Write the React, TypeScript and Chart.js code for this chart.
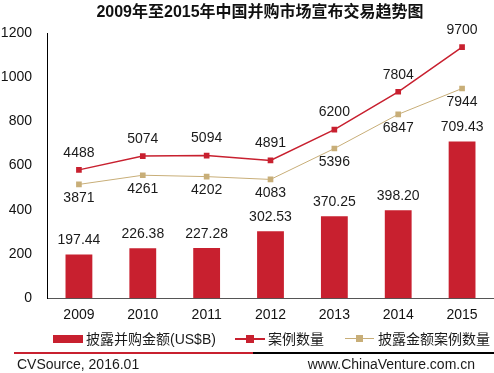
import React, { useEffect, useRef } from "react";
import { Chart, registerables } from "chart.js";

Chart.register(...registerables);

const title = "2009年至2015年中国并购市场宣布交易趋势图";
const years = ["2009", "2010", "2011", "2012", "2013", "2014", "2015"];
const dealAmount = [197.44, 226.38, 227.28, 302.53, 370.25, 398.2, 709.43];
const dealCount = [4488, 5074, 5094, 4891, 6200, 7804, 9700];
const disclosedCount = [3871, 4261, 4202, 4083, 5396, 6847, 7944];
const seriesNames = ["披露并购金额(US$B)", "案例数量", "披露金额案例数量"];
const yTicks = [0, 200, 400, 600, 800, 1000, 1200];
const sourceText = "CVSource, 2016.01";
const siteText = "www.ChinaVenture.com.cn";

const RED = "#C8202F";
const TAN = "#C8AE78";
const FONT = "'Liberation Sans', Arial, 'Noto Sans CJK SC', sans-serif";

const labelPlugin = {
  id: "valueLabels",
  afterDatasetsDraw(chart: any) {
    const ctx = chart.ctx;
    ctx.save();
    ctx.font = `14px ${FONT}`;
    ctx.fillStyle = "#1a1a1a";
    ctx.textAlign = "center";
    ctx.textBaseline = "middle";
    chart.data.datasets.forEach((ds: any, di: number) => {
      const meta = chart.getDatasetMeta(di);
      meta.data.forEach((el: any, i: number) => {
        const v = ds.data[i];
        let text: string;
        let y: number;
        if (di === 0) {
          text = v.toFixed(2);
          y = el.y - 14;
        } else if (di === 1) {
          text = String(v);
          y = el.y - 17;
        } else {
          text = String(v);
          y = el.y + 14;
        }
        ctx.fillText(text, el.x, y);
      });
    });
    ctx.restore();
  },
};

export default function App() {
  const ref = useRef<HTMLCanvasElement | null>(null);
  useEffect(() => {
    if (!ref.current) return;
    const chart = new Chart(ref.current, {
      type: "bar",
      data: {
        labels: years,
        datasets: [
          {
            type: "bar",
            label: seriesNames[0],
            data: dealAmount,
            backgroundColor: RED,
            yAxisID: "y",
            barPercentage: 0.42,
            categoryPercentage: 1,
            order: 3,
          } as any,
          {
            type: "line",
            label: seriesNames[1],
            data: dealCount,
            borderColor: RED,
            backgroundColor: RED,
            borderWidth: 1.5,
            pointStyle: "rect",
            pointRadius: 4,
            pointBorderWidth: 0,
            yAxisID: "y2",
            order: 1,
          },
          {
            type: "line",
            label: seriesNames[2],
            data: disclosedCount,
            borderColor: TAN,
            backgroundColor: TAN,
            borderWidth: 1,
            pointStyle: "rect",
            pointRadius: 4,
            pointBorderWidth: 0,
            yAxisID: "y2",
            order: 2,
          },
        ],
      },
      options: {
        animation: false,
        responsive: false,
        layout: { padding: { top: 33, bottom: 40, left: 0, right: 0 } },
        plugins: {
          legend: { display: false },
          title: { display: false },
          tooltip: { enabled: false },
        },
        scales: {
          x: {
            grid: { display: false, drawTicks: false },
            border: { display: true, color: "#555555", width: 1 },
            ticks: { color: "#111", font: { size: 14, family: FONT }, padding: 9 },
          },
          y: {
            min: 0,
            max: 1200,
            afterBuildTicks: (axis: any) => {
              axis.ticks = yTicks.map((v) => ({ value: v }));
            },
            afterFit: (axis: any) => {
              axis.width = 47;
            },
            grid: { display: false, drawTicks: false },
            border: { display: true, color: "#000", width: 1 },
            ticks: {
              color: "#111",
              font: { size: 14, family: FONT },
              padding: 15,
              callback: (v: any) => String(v),
            },
          },
          y2: {
            display: false,
            min: -960,
            max: 10300,
          },
        },
      },
      plugins: [labelPlugin],
    });
    return () => chart.destroy();
  }, []);

  const abs = (s: React.CSSProperties): React.CSSProperties => ({ position: "absolute", ...s });
  const textStyle: React.CSSProperties = {
    fontFamily: FONT,
    fontSize: 14,
    color: "#1a1a1a",
    whiteSpace: "nowrap",
    lineHeight: "16px",
  };

  return (
    <div style={{ position: "fixed", left: 0, top: 0, width: 494, height: 373, background: "#fff", overflow: "hidden" }}>
      <canvas ref={ref} width={498} height={373} style={{ position: "absolute", left: 0, top: 0 }} />
      <div style={abs({ left: 0, width: 520, top: 3, textAlign: "center", ...textStyle, fontSize: 16, fontWeight: "bold", lineHeight: "18px", color: "#111" })}>
        {title}
      </div>
      {/* legend */}
      <div style={abs({ left: 53, top: 335, width: 30, height: 8, background: RED })} />
      <div style={abs({ left: 86, top: 331, ...textStyle })}>{seriesNames[0]}</div>
      <div style={abs({ left: 235, top: 338, width: 30, height: 2, background: RED })} />
      <div style={abs({ left: 246, top: 335, width: 8, height: 8, background: RED })} />
      <div style={abs({ left: 268, top: 331, ...textStyle })}>{seriesNames[1]}</div>
      <div style={abs({ left: 345, top: 338, width: 29, height: 1, background: TAN })} />
      <div style={abs({ left: 356, top: 335, width: 7, height: 7, background: TAN })} />
      <div style={abs({ left: 378, top: 331, ...textStyle })}>{seriesNames[2]}</div>
      {/* footer */}
      <div style={abs({ left: 14, top: 352, width: 239, height: 2, background: RED })} />
      <div style={abs({ left: 253, top: 352, width: 241, height: 2, background: "#000" })} />
      <div style={abs({ left: 17, top: 356, ...textStyle })}>{sourceText}</div>
      <div style={abs({ right: 19, top: 356, ...textStyle })}>{siteText}</div>
    </div>
  );
}
